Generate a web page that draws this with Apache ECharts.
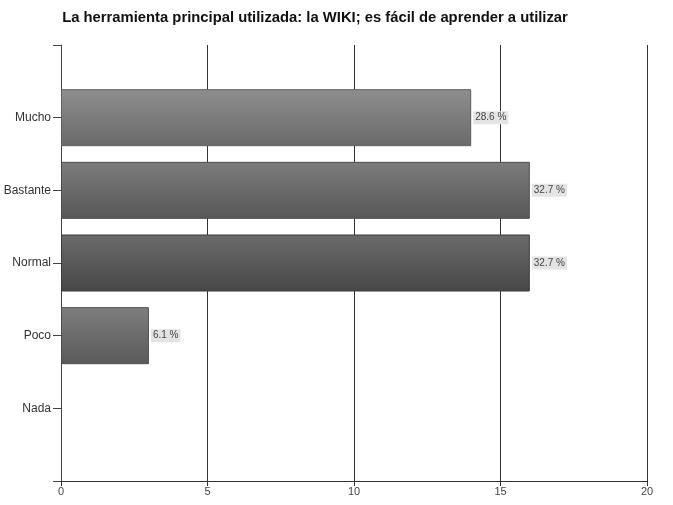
<!DOCTYPE html>
<html>
<head>
<meta charset="utf-8">
<script src="https://cdn.jsdelivr.net/npm/echarts@6/dist/echarts.min.js"></script>
<style>
  html, body { margin: 0; padding: 0; background: #fff; }
  #chart { width: 673px; height: 505px; }
</style>
</head>
<body>
<div id="chart"></div>
<script>
// Survey answers: counts per option, with their share of the 49 responses
const categories = ['', 'Mucho', 'Bastante', 'Normal', 'Poco', 'Nada', ''];
const counts = [null, 14, 16, 16, 3, 0, null];
const percentLabels = ['', '28.6 %', '32.7 %', '32.7 %', '6.1 %', '', ''];
const barColors = ['#777', '#7c7c7c', '#6a6a6a', '#595959', '#6c6c6c', '#6c6c6c', '#777'];
const xTicks = [0, 5, 10, 15, 20];

const FONT = 'Liberation Sans, Arial, sans-serif';
const chart = echarts.init(document.getElementById('chart'), null, { renderer: 'canvas' });

function shade(hex, amt) {
  const c = echarts.color.parse(hex);
  const f = v => Math.max(0, Math.min(255, Math.round(v + amt)));
  return 'rgb(' + f(c[0]) + ',' + f(c[1]) + ',' + f(c[2]) + ')';
}

const barData = counts.map((v, i) => ({
  value: v,
  itemStyle: {
    color: {
      type: 'linear', x: 0, y: 0, x2: 0, y2: 1,
      colorStops: [
        { offset: 0, color: shade(barColors[i], 18) },
        { offset: 0.5, color: barColors[i] },
        { offset: 1, color: shade(barColors[i], -18) }
      ]
    },
    borderColor: shade(barColors[i], -30),
    borderWidth: v > 0 ? 1 : 0
  },
  label: {
    show: v > 0,
    formatter: percentLabels[i]
  }
}));

chart.setOption({
  animation: false,
  backgroundColor: '#fff',
  title: {
    text: 'La herramienta principal utilizada: la WIKI; es fácil de aprender a utilizar',
    left: 310,
    textAlign: 'center',
    top: 5,
    textStyle: {
      fontFamily: FONT,
      fontSize: 14.8,
      fontWeight: 'bold',
      color: '#111'
    }
  },
  grid: { left: 61, right: 26, top: 45, bottom: 24 },
  xAxis: {
    type: 'value',
    min: xTicks[0],
    max: xTicks[xTicks.length - 1],
    interval: 5,
    axisLine: { show: true, lineStyle: { color: '#333', width: 1 } },
    axisTick: { show: true, length: 5, lineStyle: { color: '#333' } },
    axisLabel: {
      color: '#444',
      fontSize: 11,
      fontFamily: FONT,
      margin: 5
    },
    splitLine: { show: true, lineStyle: { color: '#333', width: 1 } }
  },
  yAxis: {
    type: 'category',
    inverse: true,
    boundaryGap: false,
    data: categories,
    axisLine: { show: true, onZero: false, lineStyle: { color: '#444', width: 1 } },
    axisTick: { show: true, length: 8, alignWithLabel: true, lineStyle: { color: '#444' } },
    axisLabel: {
      color: '#333',
      fontSize: 12,
      fontFamily: FONT,
      margin: 10
    },
    splitLine: { show: false }
  },
  series: [{
    type: 'bar',
    data: barData,
    barWidth: 57,
    z: 1,
    label: {
      position: 'right',
      distance: 2,
      fontSize: 10,
      fontFamily: FONT,
      color: '#444',
      backgroundColor: '#e4e4e4',
      padding: [2, 2, 1, 2]
    }
  }]
});
</script>
</body>
</html>
